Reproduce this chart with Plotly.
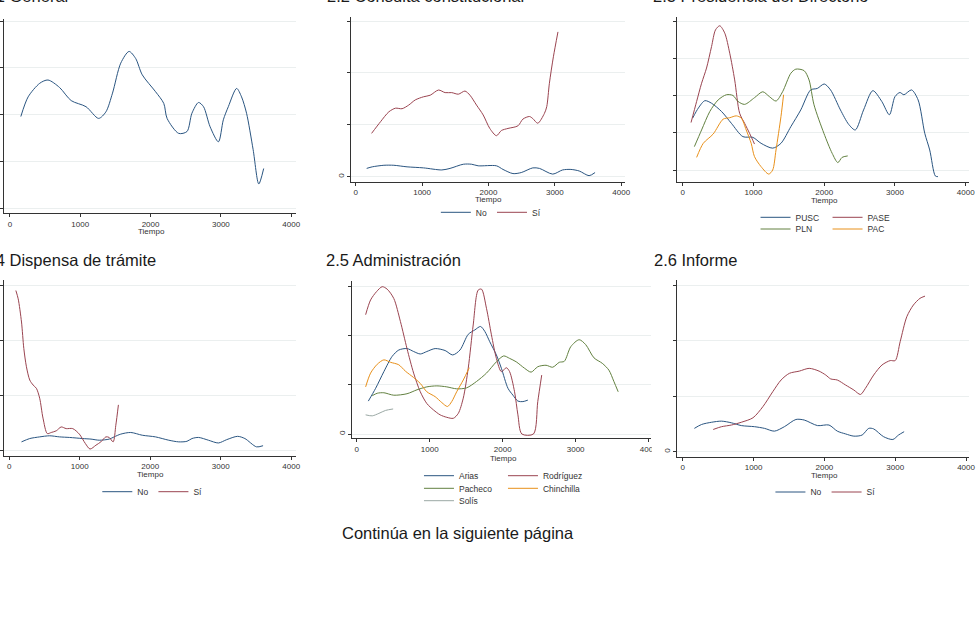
import plotly.graph_objects as go

W, H = 976, 629
FONT = "Liberation Sans, Arial, sans-serif"

NAVY = "#2a5580"
MAROON = "#9a4450"
GREEN = "#628040"
ORANGE = "#e8901a"
TEAL = "#9aa8a4"

# ---------------- data ----------------
x_ticks = [0, 1000, 2000, 3000, 4000]
x_tick_labels = ["0", "1000", "2000", "3000", "4000"]
x_title = "Tiempo"

titles = ["2.1 General", "2.2 Consulta constitucional", "2.3 Presidencia del Directorio",
          "2.4 Dispensa de trámite", "2.5 Administración", "2.6 Informe"]
footer = "Continúa en la siguiente página"

# 2.1 General
gen_x = [155, 259, 424, 541, 706, 871, 1082, 1261, 1365, 1459, 1576, 1694, 1788, 1882, 2071, 2188,
         2235, 2400, 2518, 2588, 2682, 2753, 2847, 2965, 3035, 3106, 3224, 3294, 3365, 3459, 3539, 3609]
gen_y = [1.96, 2.38, 2.67, 2.74, 2.58, 2.30, 2.17, 1.92, 2.06, 2.46, 3.10, 3.35, 3.20, 2.85, 2.49, 2.24,
         1.92, 1.60, 1.64, 2.03, 2.26, 2.17, 1.74, 1.42, 1.89, 2.17, 2.56, 2.38, 2.03, 1.25, 0.52, 0.85]

# 2.2 Consulta constitucional
cc_no_x = [165, 249, 424, 574, 773, 1022, 1297, 1421, 1621, 1746, 1845, 2120, 2219, 2369, 2494, 2668,
           2768, 2968, 3117, 3242, 3367, 3516, 3606]
cc_no_y = [0.16, 0.19, 0.22, 0.22, 0.19, 0.17, 0.13, 0.16, 0.24, 0.24, 0.21, 0.21, 0.14, 0.06, 0.08, 0.17,
           0.16, 0.05, 0.13, 0.14, 0.11, 0.02, 0.08]
cc_si_x = [239, 374, 499, 599, 698, 798, 898, 1022, 1122, 1247, 1347, 1446, 1546, 1646, 1721, 1820,
           1920, 2020, 2120, 2195, 2294, 2444, 2519, 2618, 2668, 2743, 2843, 2878, 2918, 2978, 3047]
cc_si_y = [0.835, 1.06, 1.25, 1.32, 1.31, 1.38, 1.48, 1.54, 1.57, 1.67, 1.62, 1.62, 1.59, 1.65, 1.57, 1.38,
           1.19, 0.93, 0.79, 0.89, 0.93, 0.98, 1.11, 1.16, 1.12, 1.03, 1.22, 1.35, 1.80, 2.31, 2.79]

# 2.3 Presidencia del Directorio
pusc_x = [140, 220, 313, 407, 547, 687, 850, 991, 1107, 1271, 1388, 1528, 1668, 1808, 1902, 2000, 2089,
          2229, 2346, 2439, 2556, 2687, 2813, 2921, 3000, 3070, 3126, 3234, 3327, 3421, 3491, 3570, 3607]
pusc_y = [1.40, 1.67, 1.87, 1.80, 1.58, 1.26, 0.90, 0.88, 0.72, 0.59, 0.72, 1.17, 1.62, 2.16, 2.20, 2.32,
          2.16, 1.62, 1.23, 1.08, 1.62, 2.14, 1.85, 1.49, 1.98, 2.09, 2.03, 2.16, 1.89, 0.99, 0.54, -0.16, -0.18]
pase_x = [117, 196, 266, 336, 407, 463, 523, 594, 664, 734, 804, 874, 944, 1014]
pase_y = [1.28, 1.85, 2.34, 2.75, 3.33, 3.78, 3.89, 3.69, 3.15, 2.43, 1.53, 1.26, 0.99, 0.70]
pln_x = [164, 266, 383, 500, 617, 710, 780, 874, 1014, 1131, 1224, 1318, 1411, 1528, 1598, 1715, 1785,
         1855, 1995, 2112, 2192, 2252, 2332]
pln_y = [0.63, 1.08, 1.58, 1.89, 2.03, 2.01, 1.85, 1.77, 1.95, 2.11, 1.98, 1.86, 2.11, 2.61, 2.72, 2.68, 2.43,
         1.76, 0.99, 0.45, 0.20, 0.34, 0.38]
pac_x = [196, 290, 430, 570, 664, 757, 827, 897, 967, 1014, 1107, 1215, 1271, 1318, 1388, 1425]
pac_y = [0.34, 0.72, 0.97, 1.37, 1.41, 1.46, 1.40, 1.08, 0.72, 0.36, 0.09, -0.11, 0.00, 0.54, 1.44, 2.03]

# 2.4 Dispensa de trámite
dt_no_x = [174, 291, 432, 573, 714, 854, 1042, 1160, 1277, 1418, 1488, 1582, 1723, 1887, 2075, 2263, 2404,
           2521, 2592, 2686, 2826, 2967, 3085, 3239, 3343, 3507, 3601]
dt_no_y = [0.16, 0.22, 0.25, 0.27, 0.25, 0.24, 0.22, 0.21, 0.19, 0.21, 0.25, 0.30, 0.33, 0.28, 0.25, 0.19, 0.16,
           0.17, 0.22, 0.24, 0.19, 0.14, 0.20, 0.26, 0.22, 0.07, 0.09]
dt_si_x = [94, 127, 174, 207, 244, 291, 338, 385, 432, 479, 540, 596, 667, 737, 808, 901, 995, 1080, 1146,
           1230, 1300, 1371, 1418, 1474, 1512, 1549]
dt_si_y = [2.90, 2.75, 2.33, 1.85, 1.52, 1.28, 1.19, 1.13, 0.95, 0.59, 0.31, 0.33, 0.36, 0.43, 0.40, 0.40, 0.30,
           0.13, 0.03, 0.10, 0.16, 0.25, 0.24, 0.16, 0.46, 0.83]

# 2.5 Administración
arias_x = [159, 259, 372, 485, 576, 689, 780, 871, 961, 1075, 1211, 1315, 1415, 1528, 1619, 1696, 1755,
           1823, 1914, 1982, 2073, 2141, 2209, 2277, 2345]
arias_y = [0.67, 0.93, 1.27, 1.58, 1.71, 1.74, 1.68, 1.63, 1.68, 1.74, 1.70, 1.61, 1.71, 2.03, 2.12, 2.19, 2.09,
           1.88, 1.61, 1.34, 0.93, 0.79, 0.67, 0.66, 0.69]
rod_x = [122, 190, 272, 349, 417, 508, 599, 689, 780, 871, 961, 1052, 1143, 1234, 1324, 1392, 1460, 1528,
         1596, 1664, 1710, 1778, 1846, 1914, 1982, 2050, 2095, 2163, 2209, 2263, 2422, 2481, 2535]
rod_y = [2.43, 2.73, 2.90, 3.00, 2.95, 2.76, 2.29, 1.74, 1.24, 0.86, 0.62, 0.49, 0.39, 0.34, 0.32, 0.42, 0.73,
         1.34, 2.22, 2.93, 2.95, 2.56, 2.02, 1.54, 1.27, 1.35, 1.27, 0.86, 0.39, 0.00, 0.00, 0.66, 1.20]
pach_x = [213, 281, 372, 508, 689, 826, 961, 1098, 1234, 1370, 1506, 1642, 1778, 1914, 2014, 2095, 2186,
          2299, 2390, 2481, 2594, 2685, 2776, 2844, 2934, 3048, 3138, 3252, 3365, 3456, 3524, 3583]
pach_y = [0.78, 0.83, 0.84, 0.79, 0.82, 0.90, 0.96, 0.98, 0.96, 0.92, 0.94, 1.07, 1.24, 1.47, 1.59, 1.54, 1.47,
          1.34, 1.26, 1.37, 1.40, 1.36, 1.46, 1.48, 1.78, 1.92, 1.82, 1.55, 1.44, 1.30, 1.07, 0.86]
chin_x = [122, 190, 281, 372, 463, 576, 667, 780, 871, 961, 1075, 1166, 1243, 1302, 1370, 1460, 1542]
chin_y = [0.96, 1.24, 1.42, 1.51, 1.46, 1.41, 1.28, 1.15, 1.03, 0.86, 0.76, 0.64, 0.56, 0.66, 0.86, 1.10, 1.35]
solis_x = [122, 213, 304, 395, 499]
solis_y = [0.39, 0.37, 0.42, 0.48, 0.51]

# 2.6 Informe
inf_no_x = [164, 266, 407, 547, 687, 827, 1014, 1154, 1294, 1435, 1598, 1715, 1902, 2065, 2182, 2299, 2416,
            2533, 2626, 2696, 2836, 2967, 3047, 3126]
inf_no_y = [0.42, 0.49, 0.53, 0.55, 0.52, 0.47, 0.45, 0.42, 0.37, 0.45, 0.58, 0.57, 0.47, 0.48, 0.37, 0.32, 0.28,
            0.30, 0.42, 0.41, 0.27, 0.22, 0.30, 0.36]
inf_si_x = [430, 547, 687, 827, 991, 1131, 1271, 1388, 1505, 1645, 1785, 1925, 2019, 2089, 2182, 2299, 2416,
            2509, 2579, 2696, 2813, 2930, 3000, 3070, 3164, 3257, 3350, 3421]
inf_si_y = [0.40, 0.45, 0.48, 0.53, 0.61, 0.81, 1.08, 1.29, 1.41, 1.45, 1.50, 1.45, 1.38, 1.31, 1.29, 1.20, 1.11,
            1.03, 1.14, 1.38, 1.56, 1.64, 1.64, 1.98, 2.43, 2.64, 2.76, 2.80]

# ---------------- layout geometry (pixels) ----------------
panels = [
    dict(x0=4.3, x1=297.7, p0=10.0, p4=293.3, top=19, bot=213.3, ylo=(0, 208.3), yhi=(4, 21.0), nt=4, zero=False),
    dict(x0=353.3, x1=630.0, p0=358.3, p4=625.7, top=16.7, bot=181.7, ylo=(0, 176.7), yhi=(3, 21.0), nt=3, zero=True),
    dict(x0=682.3, x1=976.0, p0=687.7, p4=972.7, top=16.7, bot=181.7, ylo=(0, 170.0), yhi=(4, 21.7), nt=4, zero=False),
    dict(x0=4.0, x1=298.0, p0=9.3, p4=293.3, top=280, bot=455.7, ylo=(0, 450.7), yhi=(3, 285.0), nt=3, zero=False),
    dict(x0=354.3, x1=656.0, p0=359.3, p4=653.3, top=281, bot=438.3, ylo=(0, 434.0), yhi=(3, 286.7), nt=3, zero=True),
    dict(x0=682.3, x1=976.0, p0=687.7, p4=973.0, top=280, bot=456.7, ylo=(0, 451.7), yhi=(3, 285.0), nt=3, zero=True),
]
title_pos = [(-20.5, -4), (327.0, -4), (655.5, -4), (-20.5, 260), (326.5, 260), (656.5, 260)]
xtitle_pos = [(152.4, 231), (492.3, 199), (830.3, 200.3), (151.7, 474.3), (506.7, 458.3), (830.3, 475)]

fig = go.Figure()

def px(xp):
    return xp / W

def py(yp):
    return 1 - yp / H

layout = {}
for i, p in enumerate(panels):
    k = "" if i == 0 else str(i + 1)
    sx = (p["p4"] - p["p0"]) / 4000.0
    xr = [0 - (p["p0"] - p["x0"]) / sx, 0 + (p["x1"] - p["p0"]) / sx]
    (v0, q0), (v1, q1) = p["ylo"], p["yhi"]
    sy = (q0 - q1) / (v1 - v0)
    yr = [v0 - (p["bot"] - q0) / sy, v0 + (q0 - p["top"]) / sy]
    yt = list(range(0, p["nt"] + 1))
    ytt = [("0" if (v == 0 and p["zero"]) else "") for v in yt]
    layout["xaxis" + k] = dict(
        domain=[px(p["x0"]), min(1.0, px(p["x1"]))], range=xr, anchor="y" + k,
        tickvals=x_ticks, ticktext=x_tick_labels, showgrid=False, zeroline=False,
        showline=True, linecolor="#333333", linewidth=1, ticks="outside", ticklen=3,
        tickcolor="#333333", tickfont=dict(family=FONT, size=8, color="#333333"),
    )
    layout["yaxis" + k] = dict(
        domain=[py(p["bot"]), py(p["top"])], range=yr, anchor="x" + k,
        tickvals=yt, ticktext=ytt, showgrid=True, gridcolor="#ebefef", gridwidth=1,
        zeroline=False, showline=True, linecolor="#333333", linewidth=1, ticks="outside",
        ticklen=3, tickcolor="#333333", tickangle=-90,
        tickfont=dict(family=FONT, size=8, color="#333333"),
    )

def add(xs, ys, name, color, panel, legend=None):
    k = "" if panel == 1 else str(panel)
    fig.add_trace(go.Scatter(
        x=xs, y=ys, name=name, mode="lines",
        line=dict(color=color, width=1.0, shape="spline", smoothing=0.8),
        xaxis="x" + k, yaxis="y" + k,
        showlegend=legend is not None, legend=legend if legend else "legend",
        hoverinfo="skip",
    ))

add(gen_x, gen_y, "General", NAVY, 1)
add(cc_no_x, cc_no_y, "No", NAVY, 2, "legend")
add(cc_si_x, cc_si_y, "Sí", MAROON, 2, "legend")
add(pusc_x, pusc_y, "PUSC", NAVY, 3, "legend2")
add(pase_x, pase_y, "PASE", MAROON, 3, "legend2")
add(pln_x, pln_y, "PLN", GREEN, 3, "legend3")
add(pac_x, pac_y, "PAC", ORANGE, 3, "legend3")
add(dt_no_x, dt_no_y, "No", NAVY, 4, "legend4")
add(dt_si_x, dt_si_y, "Sí", MAROON, 4, "legend4")
add(arias_x, arias_y, "Arias", NAVY, 5, "legend5")
add(rod_x, rod_y, "Rodríguez", MAROON, 5, "legend5")
add(pach_x, pach_y, "Pacheco", GREEN, 5, "legend6")
add(chin_x, chin_y, "Chinchilla", ORANGE, 5, "legend6")
add(solis_x, solis_y, "Solís", TEAL, 5, "legend7")
add(inf_no_x, inf_no_y, "No", NAVY, 6, "legend8")
add(inf_si_x, inf_si_y, "Sí", MAROON, 6, "legend8")

def leg(line_start, yc, entry=0):
    d = dict(x=px(line_start - 5), y=py(yc), xanchor="left", yanchor="middle",
             orientation="h", bgcolor="rgba(0,0,0,0)", borderwidth=0,
             font=dict(family=FONT, size=8.5, color="#333333"), itemwidth=30,
             traceorder="normal")
    if entry:
        d["entrywidth"] = entry
        d["entrywidthmode"] = "pixels"
    return d

layout["legend"] = leg(444, 212.3)
layout["legend2"] = leg(766, 217.3, 27)
layout["legend3"] = leg(766, 229.0, 27)
layout["legend4"] = leg(103, 491.7)
layout["legend5"] = leg(427, 475.7, 39)
layout["legend6"] = leg(427, 488.3, 39)
layout["legend7"] = leg(427, 500.7, 39)
layout["legend8"] = leg(781, 492.0)

annotations = []
for t, (tx, ty) in zip(titles, title_pos):
    annotations.append(dict(text=t, x=px(tx), y=py(ty), xref="paper", yref="paper",
                            xanchor="left", yanchor="middle", showarrow=False,
                            font=dict(family=FONT, size=16.5, color="#1a1a1a")))
for (tx, ty) in xtitle_pos:
    annotations.append(dict(text=x_title, x=px(tx), y=py(ty), xref="paper", yref="paper",
                            xanchor="center", yanchor="middle", showarrow=False,
                            font=dict(family=FONT, size=8, color="#333333")))
annotations.append(dict(text=footer, x=px(461), y=py(533), xref="paper", yref="paper",
                        xanchor="center", yanchor="middle", showarrow=False,
                        font=dict(family=FONT, size=16.5, color="#1a1a1a")))

# white mask: panel 2.5 is overlapped by panel 2.6 in the original page
shapes = [dict(type="rect", xref="paper", yref="paper", x0=px(656.5), x1=px(668),
               y0=py(455), y1=py(442), fillcolor="white", line=dict(width=0), layer="above")]

fig.update_layout(
    width=W, height=H, margin=dict(l=0, r=0, t=0, b=0),
    paper_bgcolor="white", plot_bgcolor="white",
    annotations=annotations, shapes=shapes, **layout,
)
fig.write_html("out.html")
